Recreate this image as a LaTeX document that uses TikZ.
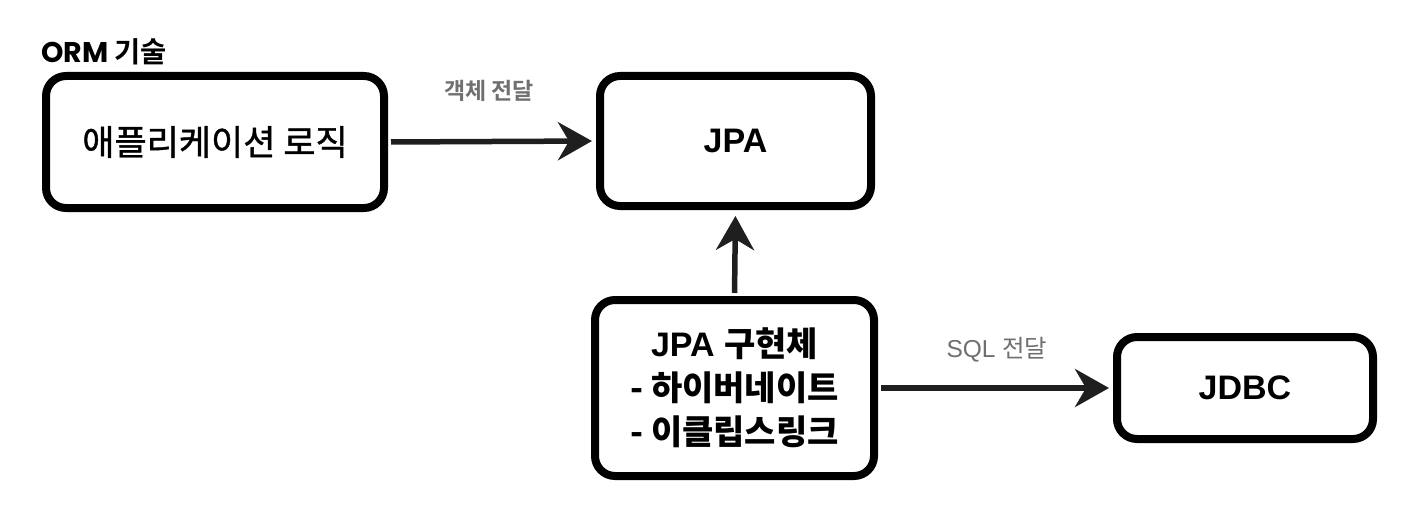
\documentclass[tikz,border=0pt]{standalone}
\usepackage{fontspec}
\setmainfont{Liberation Sans}
\newfontfamily\kr{Noto Sans CJK KR}
\newfontfamily\krm{Noto Sans CJK KR}[FakeBold=1.2]
\newfontfamily\krb{Noto Sans CJK KR Bold}
\newfontfamily\pop{Poppins}[UprightFont=* Bold]
\usetikzlibrary{arrows.meta}
\definecolor{lbl}{HTML}{707070}
\tikzset{
  box/.style={draw=black, line width=8pt, rounded corners=20pt, inner sep=0pt, align=center, fill=white},
  conn/.style={draw=black!88, line width=5.5pt, -{Stealth[length=34pt,width=38pt,inset=11pt]}, shorten <=3pt, shorten >=4pt},
  lab/.style={text=lbl, inner sep=0pt}
}
\begin{document}
\begin{tikzpicture}[x=1pt,y=-1pt]
\useasboundingbox (0,0) rectangle (1402,508);
\node[anchor=west, inner sep=0pt, font=\fontsize{28.5}{32}\selectfont] (title) at (41,52) {\pop ORM {\krb 기술}};
\node[box, minimum width=338pt, minimum height=132pt, font=\fontsize{35}{40}\selectfont\krm] (app) at (215,142) {애플리케이션 로직};
\node[box, minimum width=271pt, minimum height=130pt, font=\fontsize{34}{40}\selectfont\bfseries] (jpa) at (735.5,141) {JPA};
\node[box, minimum width=279pt, minimum height=176pt, font=\fontsize{34}{44}\selectfont\bfseries] (impl) at (734.5,388) {JPA {\krb 구현체}\\ {\krb - 하이버네이트}\\ {\krb - 이클립스링크}};
\node[box, minimum width=256pt, minimum height=102pt, font=\fontsize{34}{40}\selectfont\bfseries] (jdbc) at (1245,388) {JDBC};
\draw[conn] (app.east) -- (jpa.west);
\draw[conn, shorten >=6pt] (impl.north) -- (jpa.south);
\draw[conn] (impl.east) -- (jdbc.west);
\node[lab, font=\fontsize{23}{27}\selectfont\krb] (l1) at (489,91) {객체 전달};
\node[lab, font=\fontsize{24.5}{28}\selectfont] (l2) at (997,350) {SQL {\kr 전달}};
\end{tikzpicture}
\end{document}
